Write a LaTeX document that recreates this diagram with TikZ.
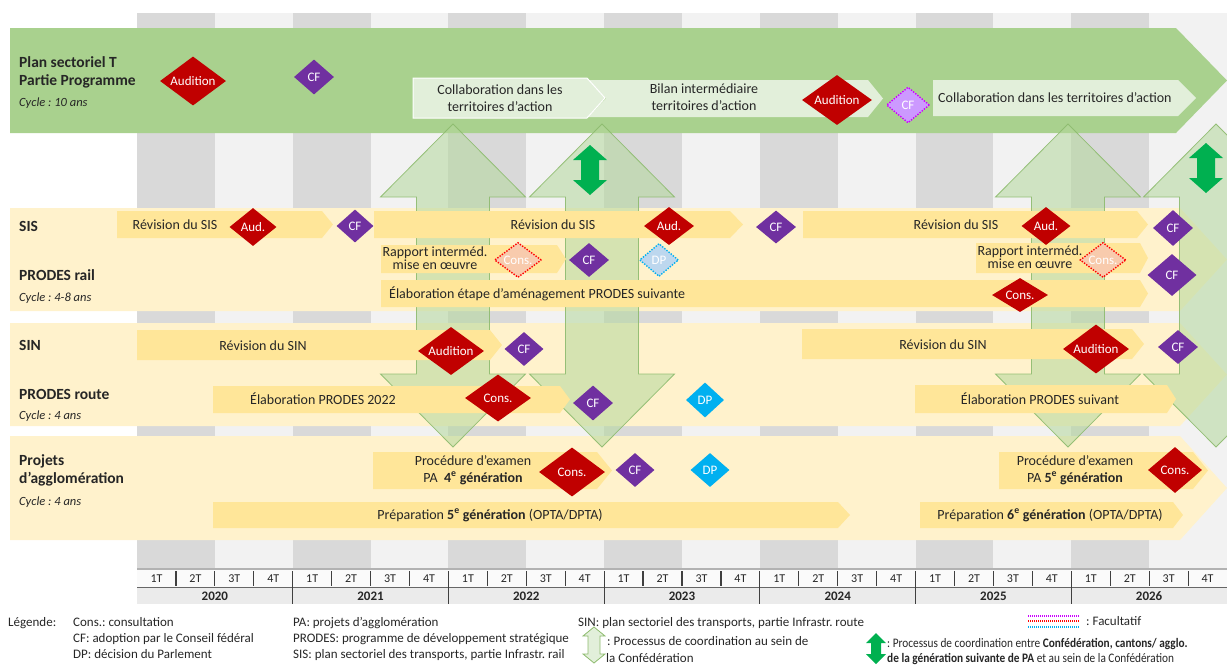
\documentclass[tikz,border=0pt]{standalone}
\usepackage{fontspec}
\setmainfont{Carlito}
\usepackage{graphicx}
\usetikzlibrary{shapes.geometric}
\definecolor{sdark}{HTML}{D9D9D9}
\definecolor{slight}{HTML}{F2F2F2}
\definecolor{tgreen}{HTML}{A9D18E}
\definecolor{pgreen}{HTML}{E2EFDA}
\definecolor{beige}{HTML}{FFF2CC}
\definecolor{barc}{HTML}{FFE699}
\definecolor{dred}{HTML}{C00000}
\definecolor{dpurple}{HTML}{7030A0}
\definecolor{dblue}{HTML}{00B0F0}
\definecolor{lsalmon}{HTML}{F8CBAD}
\definecolor{lblue}{HTML}{BDD7EE}
\definecolor{lpurple}{HTML}{CC99FF}
\definecolor{mag}{HTML}{CC00FF}
\definecolor{cgreen}{HTML}{B4D89C}
\definecolor{cline}{HTML}{8DBB6E}
\definecolor{dgreen}{HTML}{00B050}
\definecolor{txt}{HTML}{262626}
\definecolor{axg}{HTML}{EBEBEB}
\definecolor{axq}{HTML}{FAFAFA}

\newcommand\chev[6][]{\fill[barc,#1] (#2,#5) -- (#3,#5) -- (#4,{(#5+#6)/2}) -- (#3,#6) -- (#2,#6) -- cycle;}
\newcommand\dblarr[7][]{\path[#1] (#2,#3) -- ({#2+#5},{#3+#6}) -- ({#2+#7},{#3+#6}) -- ({#2+#7},{#4-#6}) -- ({#2+#5},{#4-#6}) -- (#2,#4) -- ({#2-#5},{#4-#6}) -- ({#2-#7},{#4-#6}) -- ({#2-#7},{#3+#6}) -- ({#2-#5},{#3+#6}) -- cycle;}
% diamond: style, name, x, y, w, h, text
\newcommand\dmd[7]{\node[dmd,#1,minimum width=#5,minimum height=#6] (#2) at (#3,#4) {};
  \node[dtext] (#2t) at (#3,{#4+4.3}) {#7};}

\begin{document}
\frenchspacing
\begin{tikzpicture}[x=1pt,y=-1pt,
  dmd/.style={diamond,inner sep=0pt,draw=none},
  dtext/.style={anchor=base,text=white,font=\fontsize{13}{15}\selectfont,inner sep=0pt},
  dred/.style={fill=dred},
  dcf/.style={fill=dpurple},
  ddp/.style={fill=dblue},
  dotcons/.style={fill=lsalmon,draw=red,line width=1.4pt,dash pattern=on 1.4pt off 1.4pt},
  dotdp/.style={fill=lblue,draw=dblue,line width=1.4pt,dash pattern=on 1.4pt off 1.4pt},
  dotcf/.style={fill=lpurple,draw=mag,line width=1.4pt,dash pattern=on 1.4pt off 1.4pt},
  btxt/.style={anchor=base,text=txt,font=\fontsize{14}{17}\selectfont,inner sep=0pt,align=center},
  lab/.style={anchor=base west,text=txt,font=\fontsize{15.5}{18}\selectfont\bfseries,inner sep=0pt},
  cyc/.style={anchor=base west,text=txt,font=\fontsize{12.5}{15}\selectfont\itshape,inner sep=0pt},
  leg/.style={anchor=base west,text=txt,font=\fontsize{13}{15}\selectfont,inner sep=0pt},
  coord/.style={fill=cgreen,fill opacity=0.55,draw=cline,draw opacity=0.9,line width=0.8pt},
]
\useasboundingbox (0,0) rectangle (1227,665);
\clip (0,0) rectangle (1227,665);

% background stripes
\foreach \i in {0,2,...,12} {\fill[sdark] ({137+\i*77.857},13) rectangle ({137+(\i+1)*77.857},569);}
\foreach \i in {1,3,...,13} {\fill[slight] ({137+\i*77.857},13) rectangle ({137+(\i+1)*77.857},569);}

% top green band
\fill[tgreen] (10,28) -- (1176,28) -- (1227,80.5) -- (1176,133) -- (10,133) -- cycle;
\fill[pgreen] (588,80) -- (868,80) -- (883,98.5) -- (868,117) -- (588,117) -- (606,98.5) -- cycle;
\fill[pgreen,draw=white,line width=1pt] (413,78) -- (587,78) -- (605,98) -- (587,118) -- (413,118) -- cycle;
\fill[pgreen] (933,80) -- (1178,80) -- (1196,98) -- (1178,116) -- (933,116) -- cycle;

% beige bands
\fill[beige] (10,208) -- (1180,208) -- (1227,259.5) -- (1180,311) -- (10,311) -- cycle;
\fill[beige] (10,323) -- (1180,323) -- (1227,374.5) -- (1180,426) -- (10,426) -- cycle;
\fill[beige] (10,436) -- (1180,436) -- (1227,488) -- (1180,540) -- (10,540) -- cycle;

% coordination arrows
\dblarr[coord]{453}{124}{447}{72.5}{73}{36.5}
\dblarr[coord]{602}{124}{447}{72.5}{73}{36.5}
\dblarr[coord]{1068}{124}{447}{72.5}{73}{36.5}
\dblarr[coord]{1216}{124}{447}{72.5}{73}{36.5}
\dblarr[fill=dgreen]{590}{145}{195}{17}{15}{9}
\dblarr[fill=dgreen]{1206}{143}{193}{17}{15}{9}

% bars
\chev{117}{322}{333}{211}{238}
\chev{374}{730}{743}{211}{238}
\chev{803}{1137}{1148}{211}{238}
\chev{381}{557}{566}{245}{273}
\chev{976}{1140}{1148}{243}{273}
\chev{381}{1140}{1148}{280}{307}
\chev{137}{490}{502}{330}{360}
\chev{802}{1132}{1144}{329}{359}
\chev{213}{560}{570}{386}{413}
\chev{915}{1167}{1176}{385}{413}
\chev{373}{597}{612}{452}{489}
\chev{213}{838}{850}{502}{528}
\chev{999}{1193}{1208}{452}{489}
\chev{920}{1173}{1183}{502}{528}

% labels
\node[lab] (lpst1) at (19,67) {Plan sectoriel T};
\node[lab] (lpst2) at (19,85) {Partie Programme};
\node[cyc] (lpst3) at (19,106) {Cycle : 10 ans};
\node[lab] (lsis) at (19,231) {SIS};
\node[lab] (lrail) at (19,280) {PRODES rail};
\node[cyc] (lrailc) at (19,301) {Cycle : 4-8 ans};
\node[lab] (lsin) at (19,350) {SIN};
\node[lab] (lroute) at (19,399) {PRODES route};
\node[cyc] (lroutec) at (19,419) {Cycle : 4 ans};
\node[lab] (lpa1) at (19,465) {Projets};
\node[lab] (lpa2) at (19,483) {d’agglomération};
\node[cyc] (lpac) at (19,505) {Cycle : 4 ans};

% chevron texts (base = last line)
\node[btxt] (tc1) at (500,111) {Collaboration dans les\\territoires d’action};
\node[btxt] (tb1) at (704,110) {Bilan intermédiaire\\territoires d’action};
\node[btxt,anchor=base west] (tc2) at (938,102) {Collaboration dans les territoires d’action};

% bar texts
\node[btxt] (ts1) at (175,229) {Révision du SIS};
\node[btxt] (ts2) at (553,229) {Révision du SIS};
\node[btxt] (ts3) at (956,229) {Révision du SIS};
\node[btxt,font=\fontsize{14}{12.5}\selectfont] (tr1) at (435,269) {Rapport interméd.\\mise en œuvre};
\node[btxt,font=\fontsize{14}{12.5}\selectfont] (tr2) at (1030,268) {Rapport interméd.\\mise en œuvre};
\node[btxt,anchor=base west] (tr3) at (389,298) {Élaboration étape d’aménagement PRODES suivante};
\node[btxt] (tn1) at (263,350) {Révision du SIN};
\node[btxt] (tn2) at (943,349) {Révision du SIN};
\node[btxt] (tp1) at (323,404) {Élaboration PRODES 2022};
\node[btxt] (tp2) at (1040,404) {Élaboration PRODES suivant};
\node[btxt] (ta1) at (473,482) {Procédure d’examen\\PA\ \ \textbf{4\textsuperscript{e} génération}};
\node[btxt] (ta2) at (490,519) {Préparation \textbf{5\textsuperscript{e} génération} (OPTA/DPTA)};
\node[btxt] (ta3) at (1075,482) {Procédure d’examen\\PA \textbf{5\textsuperscript{e} génération}};
\node[btxt] (ta4) at (1050,519) {Préparation \textbf{6\textsuperscript{e} génération} (OPTA/DPTA)};

% diamonds - top
\dmd{dred}{d1}{193}{81}{66}{49}{Audition}
\dmd{dcf}{d2}{314}{77}{40}{35}{CF}
\dmd{dred}{d3}{837}{100}{70}{50}{Audition}
\dmd{dotcf}{d4}{908}{105}{43}{36}{CF}
% SIS
\dmd{dred}{d5}{253}{227}{47}{38}{Aud.}
\dmd{dcf}{d6}{355}{226}{37}{33}{CF}
\dmd{dred}{d7}{669}{226}{50}{38}{Aud.}
\dmd{dcf}{d8}{776}{227}{40}{33}{CF}
\dmd{dred}{d9}{1046}{226}{49}{38}{Aud.}
\dmd{dcf}{d10}{1173}{228}{40}{36}{CF}
% rail
\dmd{dotcons}{d11}{518}{260}{47}{35}{Cons.}
\dmd{dcf}{d12}{589}{260}{40}{34}{CF}
\dmd{dotdp}{d13}{659}{260}{39}{33}{DP}
\dmd{dotcons}{d14}{1103}{260}{46}{35}{Cons.}
\dmd{dcf}{d15}{1172}{275}{49}{42}{CF}
\dmd{dred}{d16}{1020}{295}{56}{34}{Cons.}
% SIN
\dmd{dred}{d17}{451}{351}{66}{48}{Audition}
\dmd{dcf}{d18}{524}{349}{39}{34}{CF}
\dmd{dred}{d19}{1096}{349}{66}{49}{Audition}
\dmd{dcf}{d20}{1178}{347}{40}{34}{CF}
% route
\dmd{dred}{d21}{498}{398}{66}{47}{Cons.}
\dmd{dcf}{d22}{593}{403}{40}{35}{CF}
\dmd{ddp}{d23}{705}{400}{38}{35}{DP}
% agglo
\dmd{dred}{d24}{572}{472}{66}{49}{Cons.}
\dmd{dcf}{d25}{635}{470}{39}{34}{CF}
\dmd{ddp}{d26}{710}{470}{39}{34}{DP}
\dmd{dred}{d27}{1175}{470}{54}{46}{Cons.}

% axis
\fill[axq] (137,569) rectangle (1227,587);
\fill[axg] (137,587) rectangle (1227,604);
\draw[black!30,line width=2pt] (137,569) -- (1227,569);
\draw[black!60,line width=0.8pt] (137,587) -- (1227,587);
\foreach \i in {0,...,27} {\pgfmathtruncatemacro\q{mod(\i,4)+1}
  \node[anchor=base,text=txt,font=\fontsize{12}{14}\selectfont,inner sep=0pt] (q\i) at ({137+(\i+0.5)*38.93},582) {\q T};}
\foreach \i in {1,...,27} {\draw[black!75,line width=1.2pt] ({137+\i*38.93},571) -- ({137+\i*38.93},586);}
\foreach \j in {1,...,6} {\draw[black!75,line width=1.2pt] ({137+\j*155.71},571) -- ({137+\j*155.71},604);}
\foreach \j/\yr in {0/2020,1/2021,2/2022,3/2023,4/2024,5/2025,6/2026}
  {\node[anchor=base,text=txt,font=\fontsize{13}{15}\selectfont\bfseries,inner sep=0pt] (y\j) at ({137+(\j+0.5)*155.71},600) {\yr};}

% legend
\node[leg] (lg0) at (8,626) {Légende:};
\node[leg] (lg1) at (73,626) {Cons.: consultation};
\node[leg] (lg2) at (73,642) {CF: adoption par le Conseil fédéral};
\node[leg] (lg3) at (73,658) {DP: décision du Parlement};
\node[leg] (lg4) at (293,626) {PA: projets d’agglomération};
\node[leg] (lg5) at (293,642) {PRODES: programme de développement stratégique};
\node[leg] (lg6) at (293,658) {SIS: plan sectoriel des transports, partie Infrastr. rail};
\node[leg] (lg7) at (578,626) {SIN: plan sectoriel des transports, partie Infrastr. route};
\dblarr[fill=pgreen,draw=cline,line width=0.8pt]{594}{627}{663}{11}{9}{6}
\node[leg] (lg8) at (607,645) {: Processus de coordination au sein de};
\node[leg] (lg9) at (606,662) {la Confédération};
\draw[mag,line width=1.2pt,dash pattern=on 1pt off 1pt] (1028,616) -- (1080,616);
\draw[red,line width=1.2pt,dash pattern=on 1pt off 1pt] (1028,621) -- (1080,621);
\draw[dblue,line width=1.2pt,dash pattern=on 1pt off 1pt] (1028,627) -- (1080,627);
\node[leg] (lg10) at (1086,625) {: Facultatif};
\dblarr[fill=dgreen]{876}{633}{664}{10}{10}{5}
\node[leg] (lg11) at (887,647) {\scalebox{0.87}[1]{: Processus de coordination entre \textbf{Confédération, cantons/ agglo.}}};
\node[leg] (lg12) at (887,662) {\scalebox{0.87}[1]{\textbf{de la génération suivante de PA} et au sein de la Confédération}};
\end{tikzpicture}
\end{document}
